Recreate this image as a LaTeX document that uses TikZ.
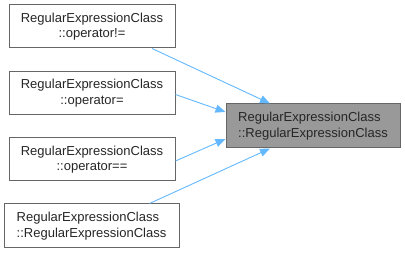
\documentclass[tikz,border=0pt]{standalone}
\usepackage{fontspec}
\setmainfont{Liberation Sans}
\usetikzlibrary{arrows.meta}
\definecolor{edgeblue}{HTML}{63B8FF}
\definecolor{boxline}{HTML}{666666}
\definecolor{hilite}{HTML}{999999}
\begin{document}
\begin{tikzpicture}[x=1pt,y=1pt,
  fn/.style={draw=boxline,line width=1pt,fill=white,inner sep=0pt,
    font=\fontsize{13}{15.5}\selectfont,text=black!85,align=center,
    minimum width=166pt,minimum height=43pt},
  cur/.style={fn,fill=hilite,minimum width=174pt,minimum height=44pt,align=left},
  call/.style={draw=edgeblue,line width=0.9pt,-{Triangle[length=10pt,width=8pt]}}]
\useasboundingbox (0,0) rectangle (405,253);
\node[fn] (b1) at (92,226.5) {RegularExpressionClass\\::operator!=};
\node[fn] (b2) at (92,160) {RegularExpressionClass\\::operator=};
\node[fn] (b3) at (92,93.5) {RegularExpressionClass\\::operator==};
\node[fn,minimum width=175pt,minimum height=44pt,align=left] (b4) at (91.5,27)
  {RegularExpressionClass\\::RegularExpressionClass};
\node[cur] (t) at (313,127) {RegularExpressionClass\\::RegularExpressionClass};
\draw[call] ([xshift=60pt]b1.south) -- ([xshift=-43pt]t.north);
\draw[call] ([yshift=-1.5pt]b2.east) -- ([yshift=14pt]t.west);
\draw[call] ([yshift=-1.5pt]b3.east) -- ([yshift=-13pt]t.west);
\draw[call] ([xshift=58pt]b4.north) -- ([xshift=-43pt]t.south);
\end{tikzpicture}
\end{document}
